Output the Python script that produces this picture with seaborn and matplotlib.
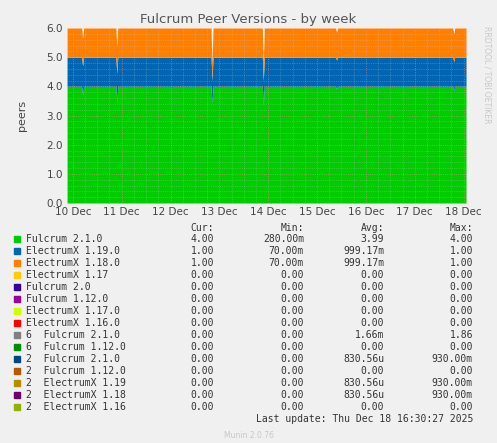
import seaborn as sns
import matplotlib.pyplot as plt
import matplotlib.patches as mpatches
import numpy as np

sns.set_theme(style="white")
plt.rcParams["font.family"] = ["DejaVu Sans"]

# time in days since 10 Dec 00:00
times = [-0.12, 0.18, 0.2, 0.22, 0.88, 0.9, 0.92, 2.83, 2.85, 2.87, 3.88, 3.9, 3.92,
         5.38, 5.4, 5.42, 7.78, 7.8, 7.82, 8.05]
fulcrum_210 = [4, 4, 3.7, 4, 4, 3.45, 4, 4, 3.4, 4, 4, 3.35, 4, 4, 3.9, 4, 4, 3.85, 4, 4]
electrumx_119 = [1, 1, 1.0, 1, 1, 1.0, 1, 1, 0.8, 1, 1, 0.85, 1, 1, 1.0, 1, 1, 1.0, 1, 1]
electrumx_118 = [1, 1, 0.95, 1, 1, 0.9, 1, 1, 0.6, 1, 1, 0.6, 1, 1, 0.95, 1, 1, 0.95, 1, 1]

day_labels = ["10 Dec", "11 Dec", "12 Dec", "13 Dec", "14 Dec", "15 Dec", "16 Dec", "17 Dec", "18 Dec"]

names = ["Fulcrum 2.1.0", "ElectrumX 1.19.0", "ElectrumX 1.18.0", "ElectrumX 1.17", "Fulcrum 2.0",
         "Fulcrum 1.12.0", "ElectrumX 1.17.0", "ElectrumX 1.16.0", "6  Fulcrum 2.1.0", "6  Fulcrum 1.12.0",
         "2  Fulcrum 2.1.0", "2  Fulcrum 1.12.0", "2  ElectrumX 1.19", "2  ElectrumX 1.18", "2  ElectrumX 1.16"]
cur = ["4.00", "1.00", "1.00"] + ["0.00"] * 12
mins = ["280.00m", "70.00m", "70.00m"] + ["0.00"] * 12
avgs = ["3.99", "999.17m", "999.17m", "0.00", "0.00", "0.00", "0.00", "0.00", "1.66m", "0.00",
        "830.56u", "0.00", "830.56u", "830.56u", "0.00"]
maxs = ["4.00", "1.00", "1.00", "0.00", "0.00", "0.00", "0.00", "0.00", "1.86", "0.00",
        "930.00m", "0.00", "930.00m", "930.00m", "0.00"]
colors = ["#00cc00", "#0066b3", "#ff8000", "#ffcc00", "#330099", "#990099", "#ccff00", "#ff0000",
          "#808080", "#008f00", "#00487d", "#b35a00", "#b38f00", "#6b006b", "#8fb300"]

W, H = 497, 443
fig = plt.figure(figsize=(W / 100, H / 100), dpi=100, facecolor="#f0f0f0")
ax = fig.add_axes([67 / W, 1 - 203 / H, (466 - 67) / W, (203 - 28) / H])
ax.set_facecolor("white")

ax.stackplot(times, fulcrum_210, electrumx_119, electrumx_118, colors=colors[:3], linewidth=0)
ax.set_xlim(-0.12, 8.05)
ax.set_ylim(0, 6)
ax.set_xticks(range(9))
ax.set_xticklabels(day_labels)
ax.set_yticks(np.arange(0, 6.1, 1.0))
ax.set_yticklabels(["%.1f" % v for v in np.arange(0, 6.1, 1.0)])
ax.set_xticks(np.arange(0, 8.05, 0.25), minor=True)
ax.set_yticks(np.arange(0, 6.01, 0.2), minor=True)
ax.grid(which="minor", color="#cccccc", linestyle=":", linewidth=0.5, alpha=0.5)
ax.grid(which="major", color="#ff9999", linestyle=":", linewidth=0.6, alpha=0.6)
ax.set_axisbelow(False)
ax.tick_params(labelsize=7.5, colors="#444444", length=0, pad=3)
for s in ax.spines.values():
    s.set_visible(False)
ax.set_ylabel("peers", fontsize=8, color="#444444", labelpad=14)

fig.text(0.5, 1 - 19 / H, "Fulcrum Peer Versions - by week", ha="center", va="center",
         fontsize=9.5, color="#555555")
fig.text(487 / W, 1 - 75 / H, "RRDTOOL / TOBI OETIKER", rotation=270, ha="center", va="center",
         fontsize=5.5, color="#c8c8c8")

mono = "DejaVu Sans Mono"
fs = 7
hy = 1 - 228 / H
for x, t in [(214, "Cur:"), (304, "Min:"), (384, "Avg:"), (473, "Max:")]:
    fig.text(x / W, hy, t, ha="right", va="center", family=mono, fontsize=fs, color="#333333")
for i, n in enumerate(names):
    y = 1 - (239 + 12 * i) / H
    fig.patches.append(mpatches.Rectangle((14 / W, y - 3 / H), 6 / W, 6 / H, color=colors[i],
                                          transform=fig.transFigure))
    fig.text(26 / W, y, n, ha="left", va="center", family=mono, fontsize=fs, color="#333333")
    for x, v in [(214, cur[i]), (304, mins[i]), (384, avgs[i]), (473, maxs[i])]:
        fig.text(x / W, y, v, ha="right", va="center", family=mono, fontsize=fs, color="#333333")
fig.text(473 / W, 1 - 419 / H, "Last update: Thu Dec 18 16:30:27 2025", ha="right", va="center",
         family=mono, fontsize=fs, color="#333333")
fig.text(0.5, 1 - 436 / H, "Munin 2.0.76", ha="center", va="center", fontsize=5.5, color="#c8c8c8")

fig.savefig("out.png", dpi=100, facecolor=fig.get_facecolor())
